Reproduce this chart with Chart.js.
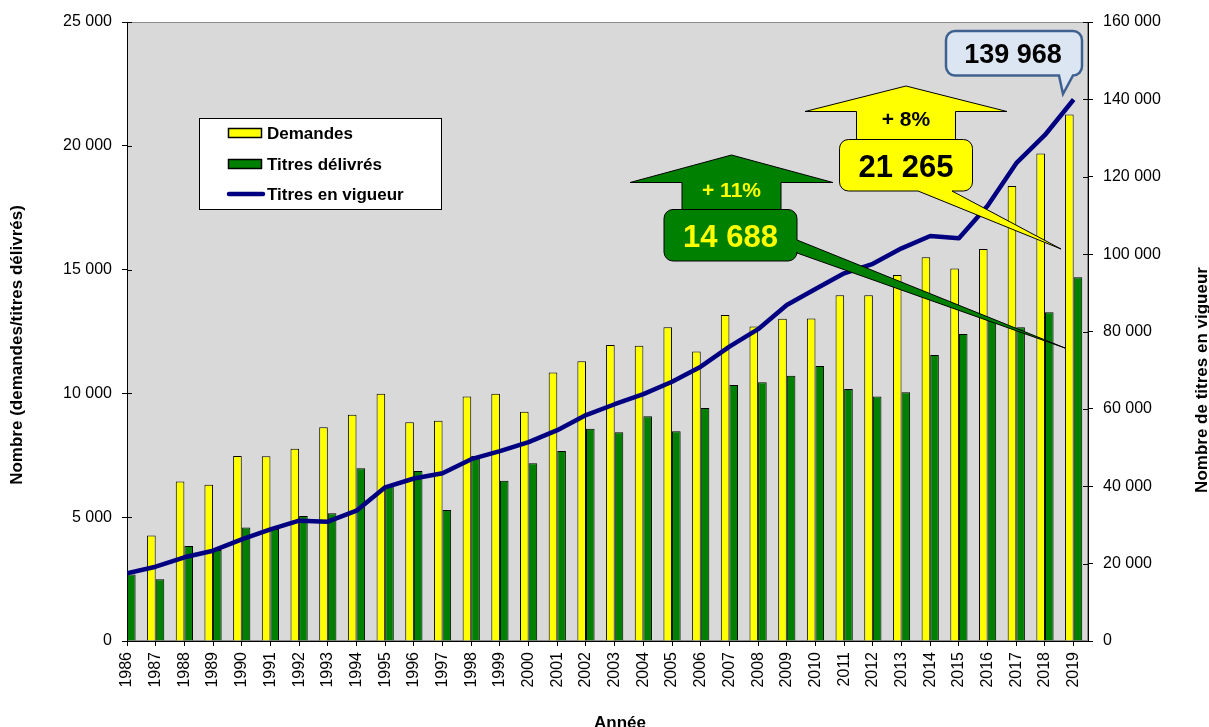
<!DOCTYPE html>
<html>
<head>
<meta charset="utf-8">
<script src="https://cdn.jsdelivr.net/npm/chart.js@4.4.0/dist/chart.umd.min.js"></script>
<style>
  html, body { margin: 0; padding: 0; background: #fff; overflow: hidden; }
</style>
</head>
<body>
<canvas id="chart" width="1209" height="727"></canvas>
<script>
// data
const years = [1986, 1987, 1988, 1989, 1990, 1991, 1992, 1993, 1994, 1995, 1996, 1997,
  1998, 1999, 2000, 2001, 2002, 2003, 2004, 2005, 2006, 2007, 2008, 2009, 2010, 2011,
  2012, 2013, 2014, 2015, 2016, 2017, 2018, 2019];
const demandes = [4650, 4260, 6440, 6310, 7470, 7460, 7760, 8630, 9140, 9990, 8830, 8900,
  9870, 9990, 9260, 10840, 11300, 11950, 11920, 12670, 11690, 13170, 12700, 13010, 13030, 13960,
  13960, 14780, 15500, 15040, 15830, 18375, 19690, 21265];
const titresDelivres = [2690, 2490, 3840, 3680, 4580, 4520, 5050, 5160, 6975, 6250, 6865, 5290,
  7470, 6475, 7175, 7675, 8575, 8430, 9075, 8470, 9410, 10340, 10450, 10715, 11105, 10180,
  9870, 10045, 11550, 12400, 12940, 12670, 13275, 14688];
const titresEnVigueur = [17500, 19200, 21640, 23340, 26290, 28870, 31100, 30840, 33680, 39730, 42000, 43350,
  47000, 49100, 51400, 54500, 58400, 61200, 63800, 67000, 70900, 76100, 80600, 86860, 91000, 95050,
  97500, 101500, 104700, 104100, 112500, 123500, 130800, 139968];
const leftMax = 25000, leftStep = 5000;
const rightMax = 160000, rightStep = 20000;

const FONT = 'Arial, "Liberation Sans", sans-serif';
const fmt = v => String(Math.round(v)).replace(/\B(?=(\d{3})+(?!\d))/g, ' ');
const pct = (a, b) => '+ ' + Math.round((a / b - 1) * 100) + '%';
const n = years.length - 1;

const plotBg = {
  id: 'plotBg',
  beforeDraw(chart) {
    const { ctx, chartArea: a } = chart;
    ctx.save();
    ctx.fillStyle = '#D9D9D9';
    ctx.fillRect(a.left, a.top, a.right - a.left, a.bottom - a.top);
    ctx.strokeStyle = '#8C8C8C';
    ctx.lineWidth = 1;
    ctx.strokeRect(a.left + 0.5, a.top + 0.5, a.right - a.left - 1, a.bottom - a.top - 1);
    ctx.restore();
  }
};

// rounded box with a pointer; side 'bottom' or 'right'
function calloutPath(ctx, x, y, w, h, r, side, b1, b2, tip) {
  ctx.beginPath();
  ctx.moveTo(x + r, y);
  ctx.lineTo(x + w - r, y);
  ctx.arcTo(x + w, y, x + w, y + r, r);
  if (side === 'right') {
    ctx.lineTo(x + w, b1);
    ctx.lineTo(tip[0], tip[1]);
    ctx.lineTo(x + w, b2);
  }
  ctx.lineTo(x + w, y + h - r);
  ctx.arcTo(x + w, y + h, x + w - r, y + h, r);
  if (side === 'bottom') {
    ctx.lineTo(b2, y + h);
    ctx.lineTo(tip[0], tip[1]);
    ctx.lineTo(b1, y + h);
  }
  ctx.lineTo(x + r, y + h);
  ctx.arcTo(x, y + h, x, y + h - r, r);
  ctx.lineTo(x, y + r);
  ctx.arcTo(x, y, x + r, y, r);
  ctx.closePath();
}

function upArrow(ctx, cx, apexY, headY, headHalf, shaftHalf, bottomY) {
  ctx.beginPath();
  ctx.moveTo(cx, apexY);
  ctx.lineTo(cx + headHalf, headY);
  ctx.lineTo(cx + shaftHalf, headY);
  ctx.lineTo(cx + shaftHalf, bottomY);
  ctx.lineTo(cx - shaftHalf, bottomY);
  ctx.lineTo(cx - shaftHalf, headY);
  ctx.lineTo(cx - headHalf, headY);
  ctx.closePath();
}

function text(ctx, s, x, y, size, color) {
  ctx.font = 'bold ' + size + 'px ' + FONT;
  ctx.fillStyle = color;
  ctx.textAlign = 'center';
  ctx.textBaseline = 'middle';
  ctx.fillText(s, x, y);
}

const extras = {
  id: 'extras',
  afterDraw(chart) {
    const { ctx, chartArea: a, scales } = chart;
    ctx.save();

    // inner half of the crossing y ticks
    ctx.strokeStyle = '#000';
    ctx.lineWidth = 1;
    scales.y.ticks.forEach(t => {
      const py = Math.round(scales.y.getPixelForValue(t.value)) + 0.5;
      ctx.beginPath(); ctx.moveTo(a.left, py); ctx.lineTo(a.left + 5, py); ctx.stroke();
    });
    scales.y1.ticks.forEach(t => {
      const py = Math.round(scales.y1.getPixelForValue(t.value)) + 0.5;
      ctx.beginPath(); ctx.moveTo(a.right - 5, py); ctx.lineTo(a.right, py); ctx.stroke();
    });

    // axis titles
    ctx.font = 'bold 17px ' + FONT;
    ctx.fillStyle = '#000';
    ctx.textAlign = 'center';
    ctx.textBaseline = 'middle';
    ctx.save(); ctx.translate(17, 345); ctx.rotate(-Math.PI / 2);
    ctx.fillText('Nombre (demandes/titres délivrés)', 0, 0); ctx.restore();
    ctx.save(); ctx.translate(1202, 380); ctx.rotate(-Math.PI / 2);
    ctx.fillText('Nombre de titres en vigueur', 0, 0); ctx.restore();
    ctx.textBaseline = 'alphabetic';
    ctx.fillText('Année', 620, 728);

    // legend
    ctx.fillStyle = '#fff';
    ctx.fillRect(199.5, 118.5, 242, 91);
    ctx.strokeStyle = '#000';
    ctx.strokeRect(199.5, 118.5, 242, 91);
    const rows = [133, 164, 194];
    chart.data.datasets.forEach((ds, i) => {
      const ry = rows[i];
      if (ds.type === 'line') {
        ctx.strokeStyle = ds.borderColor;
        ctx.lineWidth = ds.borderWidth;
        ctx.lineCap = 'round';
        ctx.beginPath(); ctx.moveTo(229, ry); ctx.lineTo(263, ry); ctx.stroke();
        ctx.lineCap = 'butt';
      } else {
        ctx.fillStyle = ds.backgroundColor;
        ctx.fillRect(228.5, ry - 4.5, 33, 9);
        ctx.strokeStyle = '#000';
        ctx.lineWidth = 1.5;
        ctx.strokeRect(228.5, ry - 4.5, 33, 9);
      }
      ctx.font = 'bold 17px ' + FONT;
      ctx.fillStyle = '#000';
      ctx.textAlign = 'left';
      ctx.textBaseline = 'middle';
      ctx.fillText(ds.label, 267, ry + 1);
    });

    ctx.lineJoin = 'miter';
    // green block arrow + callout
    ctx.fillStyle = '#008000';
    ctx.strokeStyle = '#000';
    ctx.lineWidth = 1;
    upArrow(ctx, 731.5, 155, 182.5, 101.5, 49.5, 215);
    ctx.fill(); ctx.stroke();
    text(ctx, pct(titresDelivres[n], titresDelivres[n - 1]), 731.5, 191, 21, '#FFFF00');
    ctx.fillStyle = '#008000';
    calloutPath(ctx, 664, 209.5, 133, 51.5, 9, 'right', 240, 253, [1065, 348]);
    ctx.fill(); ctx.stroke();
    text(ctx, fmt(titresDelivres[n]), 730.5, 238, 31, '#FFFF00');

    // yellow block arrow + callout
    ctx.fillStyle = '#FFFF00';
    upArrow(ctx, 906, 86, 111.5, 101, 49.5, 145);
    ctx.fill(); ctx.stroke();
    text(ctx, pct(demandes[n], demandes[n - 1]), 906, 120.5, 21, '#000');
    ctx.fillStyle = '#FFFF00';
    calloutPath(ctx, 839.5, 139.5, 133, 51.5, 9, 'bottom', 918, 952, [1061, 249]);
    ctx.fill(); ctx.stroke();
    text(ctx, fmt(demandes[n]), 906, 168, 31, '#000');

    // blue callout on the last line value
    ctx.fillStyle = '#DCE6F2';
    ctx.strokeStyle = '#3F6190';
    ctx.lineWidth = 2.5;
    calloutPath(ctx, 946, 31, 136, 44.5, 9, 'bottom', 1059, 1073, [1063, 94]);
    ctx.fill(); ctx.stroke();
    text(ctx, fmt(titresEnVigueur[n]), 1013, 56, 27, '#000');

    ctx.restore();
  }
};

const tickFont = { family: FONT, size: 16 };

new Chart(document.getElementById('chart'), {
  type: 'bar',
  data: {
    datasets: [
      {
        label: 'Demandes',
        data: years.map((x, i) => ({ x, y: demandes[i] })),
        backgroundColor: '#FFFF00',
        borderColor: '#000',
        borderWidth: 1,
        categoryPercentage: 0.6,
        barPercentage: 1,
        yAxisID: 'y',
        clip: 0,
        order: 1
      },
      {
        label: 'Titres délivrés',
        data: years.map((x, i) => ({ x, y: titresDelivres[i] })),
        backgroundColor: '#008000',
        borderColor: '#000',
        borderWidth: 1,
        categoryPercentage: 0.6,
        barPercentage: 1,
        yAxisID: 'y',
        clip: 0,
        order: 1
      },
      {
        type: 'line',
        label: 'Titres en vigueur',
        data: years.map((x, i) => ({ x, y: titresEnVigueur[i] })),
        borderColor: '#000080',
        backgroundColor: '#000080',
        borderWidth: 4.5,
        borderJoinStyle: 'round',
        pointRadius: 0,
        tension: 0,
        yAxisID: 'y1',
        order: 0
      }
    ]
  },
  options: {
    responsive: false,
    animation: false,
    devicePixelRatio: 1,
    layout: { padding: { top: 22, left: 0, right: 0, bottom: 0 } },
    plugins: { legend: { display: false }, tooltip: { enabled: false } },
    scales: {
      x: {
        type: 'linear',
        min: years[0],
        max: years[n] + 0.5,
        offset: false,
        grid: { offset: false, drawOnChartArea: false, drawTicks: true, tickLength: 5, color: '#000' },
        border: { display: true, color: '#000', width: 1 },
        ticks: {
          stepSize: 1, autoSkip: false, includeBounds: false, maxTicksLimit: 60,
          minRotation: 90, maxRotation: 90, padding: 6,
          color: '#000', font: tickFont,
          callback: v => String(v)
        },
        afterBuildTicks: s => { s.ticks = s.ticks.filter(t => Number.isInteger(t.value)); },
        afterFit: s => { s.height = 86; }
      },
      y: {
        position: 'left',
        min: 0, max: leftMax,
        grid: { drawOnChartArea: false, tickLength: 5, color: '#000' },
        border: { display: true, color: '#000', width: 1 },
        ticks: { stepSize: leftStep, padding: 10, color: '#000', font: tickFont, callback: v => fmt(v) },
        afterFit: s => { s.width = 127; }
      },
      y1: {
        position: 'right',
        min: 0, max: rightMax,
        grid: { drawOnChartArea: false, tickLength: 5, color: '#000' },
        border: { display: true, color: '#000', width: 1 },
        ticks: { stepSize: rightStep, padding: 10, color: '#000', font: tickFont, callback: v => fmt(v) },
        afterFit: s => { s.width = 121; }
      }
    }
  },
  plugins: [plotBg, extras]
});
</script>
</body>
</html>
